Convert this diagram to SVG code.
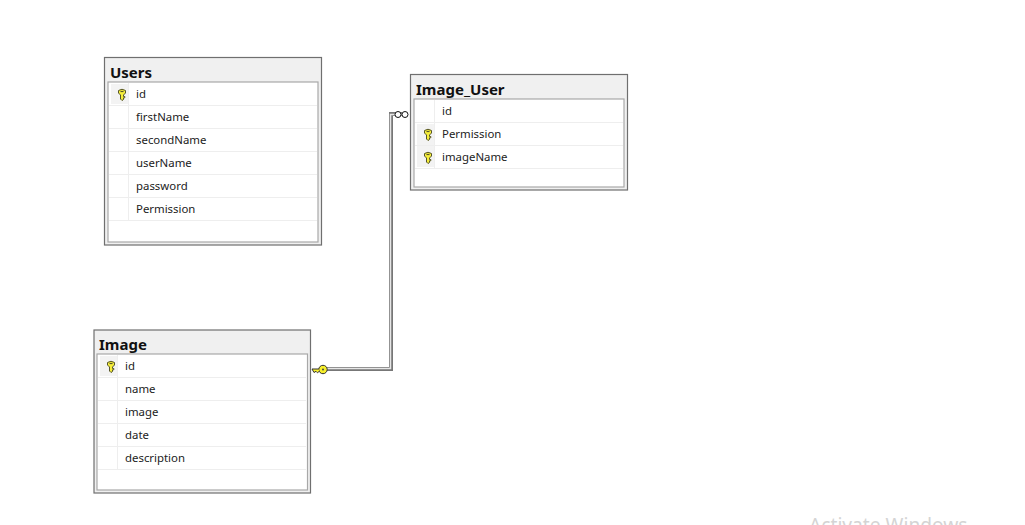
<svg xmlns="http://www.w3.org/2000/svg" width="1025" height="525" viewBox="0 0 1025 525">
<style>
.outer{fill:#f0f0f0;stroke:#6f6f6f;stroke-width:1.2}
.inner{fill:#fff;stroke:#a8a8a8;stroke-width:1.2}
.rl{stroke:#eeeeee;stroke-width:1;fill:none}
.gut{fill:#f3f3f3}
.t{font-family:"Noto Sans","Open Sans",sans-serif;font-weight:700;font-size:15px;fill:#111}
.f{font-family:"Noto Sans","Open Sans",sans-serif;font-size:11.4px;fill:#222}
.w{font-family:"Noto Sans","Open Sans",sans-serif;font-size:19.2px;fill:#d4d4d4}
</style>
<defs>
<g id="key">
<path d="M-3.500,-3.500Q0,-6 3.500,-3.500V-1L1.500,1V2.500H2.800V3.800H1.500V5.500L0,6.500L-1.500,5V1L-3.500,-1Z" fill="#f6ee3a" stroke="#55552a" stroke-width="1"/>
<path d="M-1.500,-2.500H1.500" stroke="#55552a" stroke-width="1.200"/>
</g>
</defs>
<rect width="1025" height="525" fill="#fff"/>
<g id="connectors">
<path d="M326,369H391V114H402" fill="none" stroke="#777" stroke-width="4"/>
<path d="M326,368.500H390.500V114.500H402" fill="none" stroke="#e6e6e6" stroke-width="1.500"/>
<g id="end-key">
<circle cx="323" cy="369.500" r="4.200" fill="#f6ee2a" stroke="#333" stroke-width="1"/>
<circle cx="323" cy="369.500" r="1" fill="#444"/>
<path d="M319,369H312L314,372.500L316,371.300L317.500,372.800L319.500,371" fill="#f6ee2a" stroke="#333" stroke-width="1"/>
</g>
<g id="end-many" fill="#fff" stroke="#111" stroke-width="1">
<circle cx="398" cy="114.500" r="3"/>
<circle cx="405" cy="114.500" r="3"/>
</g>
</g>
<g id="users">
<rect class="outer" x="104.500" y="57.500" width="217" height="187.500"/>
<rect class="inner" x="108" y="82" width="210" height="160"/>
<text class="t" x="110" y="77.500">Users</text>
<rect class="gut" x="111" y="84" width="17" height="20"/>
<path class="rl" d="M128.500,83V220M109,105.500H317M109,128.500H317M109,151.500H317M109,174.500H317M109,197.500H317M109,220.500H317"/>
<use href="#key" x="122" y="94"/>
<text class="f" x="136" y="98">id</text>
<text class="f" x="136" y="121">firstName</text>
<text class="f" x="136" y="144">secondName</text>
<text class="f" x="136" y="167">userName</text>
<text class="f" x="136" y="190">password</text>
<text class="f" x="136" y="213">Permission</text>
</g>
<g id="image-user">
<rect class="outer" x="410.500" y="74.500" width="217" height="115.500"/>
<rect class="inner" x="414" y="99" width="210" height="88"/>
<text class="t" x="416" y="94.500">Image_User</text>
<rect class="gut" x="417" y="124" width="17" height="43"/>
<path class="rl" d="M434.500,100V168M415,122.500H623M415,145.500H623M415,168.500H623"/>
<use href="#key" x="428" y="134"/>
<use href="#key" x="428" y="157"/>
<text class="f" x="442" y="115">id</text>
<text class="f" x="442" y="138">Permission</text>
<text class="f" x="442" y="161">imageName</text>
</g>
<g id="image">
<rect class="outer" x="94" y="330" width="216.500" height="163"/>
<rect class="inner" x="97" y="354" width="210.500" height="136"/>
<text class="t" x="99" y="350">Image</text>
<rect class="gut" x="100" y="356" width="17" height="20"/>
<path class="rl" d="M117.500,355V469M98,377.500H306M98,400.500H306M98,423.500H306M98,446.500H306M98,469.500H306"/>
<use href="#key" x="111" y="366"/>
<text class="f" x="125" y="370">id</text>
<text class="f" x="125" y="393">name</text>
<text class="f" x="125" y="416">image</text>
<text class="f" x="125" y="439">date</text>
<text class="f" x="125" y="462">description</text>
</g>
<text class="w" x="809" y="532">Activate Windows</text>
</svg>
